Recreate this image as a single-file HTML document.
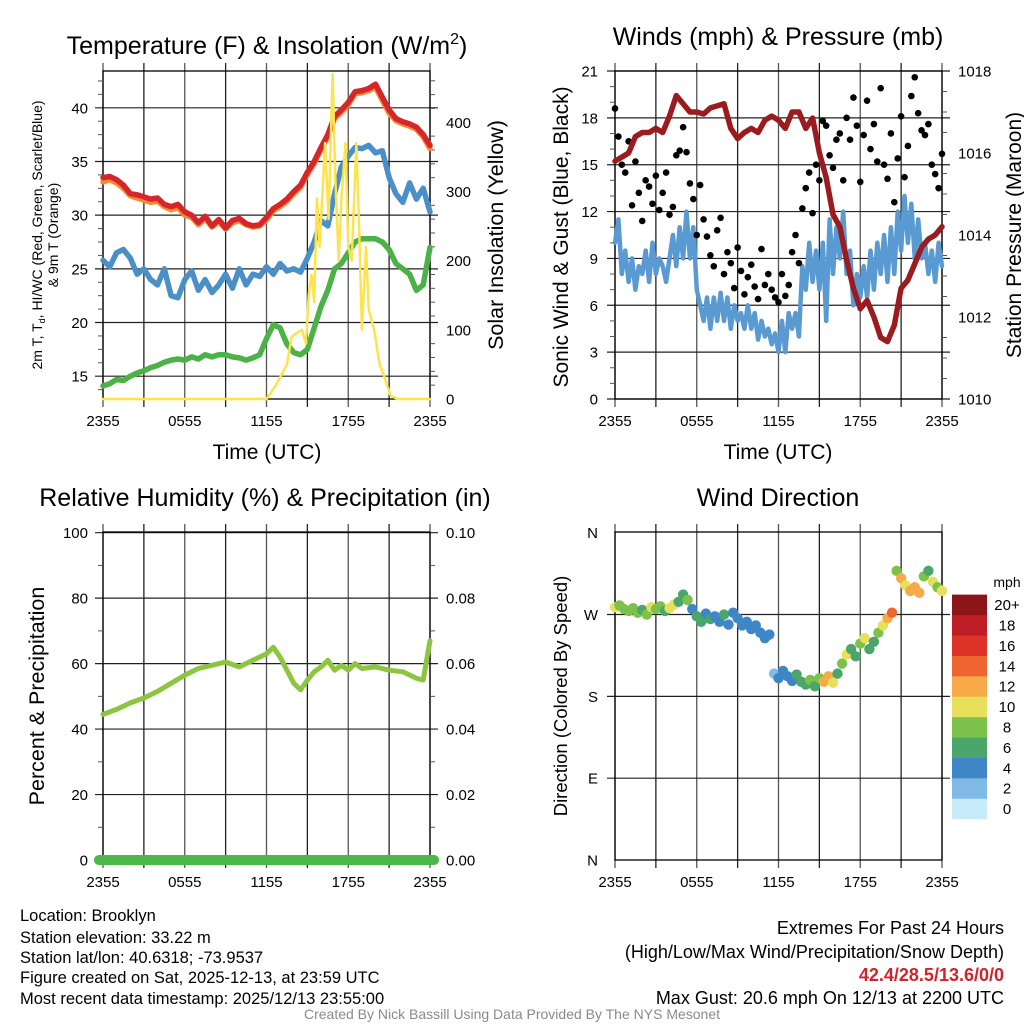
<!DOCTYPE html>
<html><head><meta charset="utf-8">
<style>
html,body{margin:0;padding:0;background:#fff;}
svg{display:block;font-family:"Liberation Sans",sans-serif;}
</style></head>
<body>
<svg id="fig" width="1024" height="1024" viewBox="0 0 1024 1024">
<rect width="1024" height="1024" fill="#fff"/>
<text x="267" y="54" font-size="25" text-anchor="middle">Temperature (F) &amp; Insolation (W/m<tspan font-size="16" dy="-10">2</tspan><tspan dy="10">)</tspan></text>
<text x="778" y="45" font-size="25" text-anchor="middle">Winds (mph) &amp; Pressure (mb)</text>
<text x="265" y="506" font-size="25" text-anchor="middle">Relative Humidity (%) &amp; Precipitation (in)</text>
<text x="778" y="506" font-size="25" text-anchor="middle">Wind Direction</text>

<text transform="translate(42,235) rotate(-90)" font-size="14" text-anchor="middle">2m T, T<tspan font-size="9" dy="3">d</tspan><tspan dy="-3">, HI/WC (Red, Green, Scarlet/Blue)</tspan></text>
<text transform="translate(58,235) rotate(-90)" font-size="14" text-anchor="middle">&amp; 9m T (Orange)</text>
<text transform="translate(503,235) rotate(-90)" font-size="21.5" text-anchor="middle">Solar Insolation (Yellow)</text>
<text transform="translate(568,237) rotate(-90)" font-size="21" text-anchor="middle">Sonic Wind &amp; Gust (Blue, Black)</text>
<text transform="translate(1021,235) rotate(-90)" font-size="21" text-anchor="middle">Station Pressure (Maroon)</text>
<text transform="translate(44,696) rotate(-90)" font-size="21.5" text-anchor="middle">Percent &amp; Precipitation</text>
<text transform="translate(567,696) rotate(-90)" font-size="18.5" text-anchor="middle">Direction (Colored By Speed)</text>
<text x="267" y="459" font-size="21" text-anchor="middle">Time (UTC)</text>
<text x="778" y="459" font-size="21" text-anchor="middle">Time (UTC)</text>

<g font-size="16.5">
<text x="20" y="921">Location: Brooklyn</text>
<text x="20" y="943">Station elevation: 33.22 m</text>
<text x="20" y="963">Station lat/lon: 40.6318; -73.9537</text>
<text x="20" y="983">Figure created on Sat, 2025-12-13, at 23:59 UTC</text>
<text x="20" y="1004">Most recent data timestamp: 2025/12/13 23:55:00</text>
</g>
<g font-size="18" text-anchor="end">
<text x="1004" y="934">Extremes For Past 24 Hours</text>
<text x="1004" y="958">(High/Low/Max Wind/Precipitation/Snow Depth)</text>
<text x="1004" y="981" font-weight="bold" fill="#d0232a">42.4/28.5/13.6/0/0</text>
<text x="1004" y="1004">Max Gust: 20.6 mph On 12/13 at 2200 UTC</text>
</g>
<text x="512" y="1019" font-size="14" fill="#8a8a8a" text-anchor="middle">Created By Nick Bassill Using Data Provided By The NYS Mesonet</text>
<g id="layer"></g>
</svg>
<script>
// ---- data ----
const halfHours = [0,0.5,1,1.5,2,2.5,3,3.5,4,4.5,5,5.5,6,6.5,7,7.5,8,8.5,9,9.5,10,10.5,11,11.5,12,12.5,13,13.5,14,14.5,15,15.5,16,16.5,17,17.5,18,18.5,19,19.5,20,20.5,21,21.5,22,22.5,23,23.5,24];
const tempRed = [33.5,33.6,33.3,32.8,32.0,31.9,31.7,31.5,31.6,31.0,30.8,31.0,30.3,30.0,29.3,29.9,29.0,29.6,28.8,29.5,29.7,29.2,29.0,29.1,29.8,30.6,31.0,31.5,32.2,32.8,34.0,35.0,36.3,37.5,39.2,39.8,40.5,41.5,41.6,41.8,42.2,41.0,39.8,39.0,38.7,38.5,38.2,37.5,36.5];
const tempOrange = [33.1,33.3,33.0,32.5,31.8,31.6,31.4,31.2,31.3,30.8,30.5,30.7,30.0,29.8,29.1,29.7,28.9,29.4,28.7,29.3,29.5,29.1,28.9,29.0,29.6,30.4,30.8,31.3,32.0,32.6,33.8,34.8,36.1,37.3,39.0,39.6,40.3,41.3,41.4,41.6,41.9,40.7,39.5,38.8,38.5,38.3,38.0,37.3,36.2];
const tempBlue = [25.8,25.2,26.5,26.8,26.0,24.5,25.0,24.0,23.5,25.0,22.5,22.3,24.0,24.8,23.0,24.0,22.8,23.5,24.5,23.2,25.0,23.5,24.5,24.3,25.2,24.5,25.5,24.8,25.0,24.7,26.0,27.5,29.5,29.0,32.0,34.5,35.5,36.3,36.2,36.5,35.8,36.0,33.5,32.0,31.2,33.0,31.5,32.5,30.3];
const tempGreen = [14.1,14.3,14.7,14.6,15.0,15.3,15.5,15.8,16.0,16.3,16.5,16.6,16.5,16.8,16.6,17.0,16.8,17.0,17.0,16.8,16.7,16.5,16.7,17.0,18.5,19.8,19.5,18.0,17.2,17.0,17.5,19.5,21.5,23.0,25.0,25.5,26.5,27.5,27.8,27.8,27.8,27.5,26.8,25.5,25.0,24.5,23.0,23.5,27.0];
const solarHours = [0,12.0,12.7,13.5,13.85,14.2,14.6,14.9,15.1,15.3,15.5,15.7,15.9,16.3,16.56,16.85,17.05,17.3,17.5,17.8,18.0,18.25,18.6,18.8,19.0,19.3,19.5,19.9,20.3,20.6,21.1,21.6,24];
const solarValues = [0,0,20,50,90,95,100,80,150,180,140,290,220,370,260,470,320,200,290,370,220,200,370,250,100,220,130,100,50,35,5,0,0];
const windBlue = [10,11.5,8,9.5,7.5,9,7,8.5,8,9.5,7.5,10,8,9,8.5,7.5,9,10.5,8.5,11,9,12,9,11,7,6,5,6.5,4.5,6.5,5,6.8,5,6.5,4.5,6,5,5.5,4.5,6,4.5,5.5,3.8,5,4,4.5,3.5,4.2,3,5,3,5.5,4.5,5.5,4,8.5,7,10,7.5,9.5,7,10,5,11.5,8,11,9,12,8,9.5,6,8,6.5,8.5,6.5,9.5,7,10,8,10.5,7.5,11,8,12,9.5,13,10,12.5,9,11.5,9,10,8,9.5,7.5,10,8.5];
const pressure = [1015.8,1015.9,1016.0,1016.4,1016.5,1016.5,1016.6,1016.5,1016.9,1017.4,1017.2,1017.0,1017.0,1016.95,1017.1,1017.15,1017.2,1016.6,1016.35,1016.5,1016.6,1016.5,1016.8,1016.9,1016.8,1016.6,1017.0,1017.0,1016.6,1016.85,1016.0,1015.4,1014.5,1014.2,1013.4,1012.7,1012.2,1012.4,1012.0,1011.5,1011.4,1011.8,1012.7,1012.9,1013.3,1013.7,1013.9,1014.0,1014.2];
const gustValues = [18.6,16.8,15.0,14.5,16.5,12.4,15.2,13.2,11.4,14.0,13.6,12.5,14.3,12.1,13.2,14.5,11.8,12.3,15.6,15.9,17.4,15.8,13.8,12.8,10.5,13.7,11.5,10.4,9.2,8.5,10.8,11.6,8.0,9.4,8.7,7.1,9.7,8.2,6.7,7.8,8.6,7.2,6.4,9.6,7.3,8.0,7.0,6.5,6.2,8.0,6.6,7.3,9.4,10.5,8.7,12.2,13.5,14.5,11.9,15.0,14.0,17.8,17.5,15.6,14.8,16.6,17.0,14.0,18.0,16.6,19.3,17.5,13.9,16.9,19.1,16.0,17.6,15.2,19.9,15.0,14.1,17.0,12.6,15.4,18.1,14.2,16.2,19.4,20.6,18.3,17.2,16.9,17.6,15.0,14.4,13.5,15.7];
const rhHours = [0,1,2,3,4,5,6,7,8,9,10,11,12,12.5,13,13.5,14,14.5,15,15.5,16,16.5,17,17.5,18,18.5,19,20,21,22,23,23.5,24];
const rhValues = [44.5,46,48,49.5,51.5,54,56.5,58.5,59.5,60.5,59,61,63,65,62,58,54,52,55,57.5,59,61,58,59.5,58,60,58.5,59,58,57.5,55.5,55,67];
const precipValues = [0,0];
const dirHours = [0,0.33,0.67,1,1.33,1.67,2,2.33,2.67,3,3.33,3.67,4,4.33,4.67,5,5.33,5.67,6,6.33,6.67,7,7.33,7.67,8,8.33,8.67,9,9.33,9.67,10,10.33,10.67,11,11.33,11.67,12,12.33,12.67,13,13.33,13.67,14,14.33,14.67,15,15.33,15.67,16,16.33,16.67,17,17.33,17.67,18,18.33,18.67,19,19.33,19.67,20,20.33,20.67,21,21.33,21.67,22,22.33,22.67,23,23.33,23.67,24];
const dirDegrees = [278,280,276,274,277,272,275,270,278,276,279,274,277,281,284,292,286,276,268,262,271,265,268,262,270,259,272,266,258,262,254,258,250,244,248,205,200,208,202,197,204,196,193,198,191,200,196,202,195,205,216,226,232,224,238,244,232,240,250,258,266,272,318,310,302,296,300,294,312,318,306,300,296];
const dirSpeeds = [10,9,8,8,9,8,7,8,10,8,9,7,10,11,7,6,9,5,6,7,4,6,5,4,6,4,4,5,4,5,4,4,5,4,4,3,4,5,4,5,6,7,6,9,6,9,12,13,10,7,9,10,6,7,8,10,7,6,8,10,12,14,9,12,10,13,12,12,8,7,10,8,10];
const speedBins = ["0","2","4","6","8","10","12","14","16","18","20+"];
const speedColors = ["#c8ebfa","#7fbbe6","#3e86c6","#4aa66b","#7cc24a","#e7e05a","#f7aa47","#ef6530","#dd3328","#bf1e26","#8d1519"];

// ---- helpers ----
const NS="http://www.w3.org/2000/svg";
const layer=document.getElementById('layer');
function mk(tag,attrs,parent){const e=document.createElementNS(NS,tag);for(const k in attrs)e.setAttribute(k,attrs[k]);(parent||layer).appendChild(e);return e;}
function xScale(x0){return h=>x0+h/24*327;}
function yLin(v0,v1,yb,yt){return v=>yb-(v-v0)/(v1-v0)*(yb-yt);}
const xTickLabels=["2355","0555","1155","1755","2355"];

function panel(x0,y0,name,hLines){
  const g=mk('g',{});
  
  
  for(let i=0;i<=8;i++){
    const x=x0+i*327/8;
    const l=mk('line',{x1:x,x2:x,y1:y0-8,y2:y0+336,stroke:(i%2?'#222':'#555'),'stroke-width':1.3},g);
    
    
  }
  hLines.forEach(y=>{
    const l=mk('line',{x1:x0-8,x2:x0+335,y1:y,y2:y,stroke:'#222','stroke-width':1.2},g);
    
    
  });
  const r=mk('rect',{x:x0,y:y0,width:327,height:328,fill:'none',stroke:'#000','stroke-width':1.3},g);
  
  
  xTickLabels.forEach((t,i)=>{
    const tx=mk('text',{x:x0+i*327/4,y:y0+355,'font-size':15,'text-anchor':'middle'},g);
    tx.textContent=t;
    
    
  });
  return g;
}
function yLabels(vals,fy,x,anchor,fmt,minor,side){
  vals.forEach(v=>{
    const t=mk('text',{x:x,y:fy(v)+5.5,'font-size':15,'text-anchor':anchor});
    t.textContent=fmt(v);
    
    
  });
  minor.forEach(v=>{
    const y=fy(v);
    const l=mk('line',{x1:side,x2:side+(anchor==='end'?-5:5),y1:y,y2:y,stroke:'#555','stroke-width':1});
    
    
  });
}
function path(xs,ys,fx,fy,color,w,name){
  let d='';xs.forEach((h,i)=>{d+=(i?'L':'M')+fx(h).toFixed(1)+','+fy(ys[i]).toFixed(1);});
  const p=mk('path',{d:d,fill:'none',stroke:color,'stroke-width':w,'stroke-linejoin':'round','stroke-linecap':'round'});
  
  
  return p;
}

// ---- Temperature panel ----
{
const fx=xScale(103), fy=yLin(15,40,376.2,107.8), fs=yLin(0,400,399,122.3);
panel(103,71,'temperature',[15,20,25,30,35,40].map(fy));
yLabels([15,20,25,30,35,40],fy,88,'end',v=>v,[13.75,16.25,17.5,18.75,21.25,22.5,23.75,26.25,27.5,28.75,31.25,32.5,33.75,36.25,37.5,38.75,41.25,42.5],103);
yLabels([0,100,200,300,400],fs,446,'start',v=>v,[20,40,60,80,120,140,160,180,220,240,260,280,320,340,360,380,420,440,460],430);
path(halfHours,tempGreen,fx,fy,'#4bb247',5.5,'dewpoint-line');
path(halfHours,tempBlue,fx,fy,'#4a8fc8',5.5,'wind-chill-line');
path(halfHours,tempOrange,fx,fy,'#f58a32',5.5,'temp-9m-line');
path(halfHours,tempRed,fx,fy,'#d7262b',5.5,'temp-2m-line');
path(solarHours,solarValues,fx,fs,'#fde34d',2.5,'insolation-line');
}
// ---- Wind panel ----
{
const fx=xScale(615), fy=yLin(0,21,399,71), fp=yLin(1010,1018,399,71);
panel(615,71,'wind',[0,3,6,9,12,15,18,21].map(fy));
yLabels([0,3,6,9,12,15,18,21],fy,598,'end',v=>v,[1,2,4,5,7,8,10,11,13,14,16,17,19,20],615);
yLabels([1010,1012,1014,1016,1018],fp,958,'start',v=>v,[1010.5,1011,1011.5,1012.5,1013,1013.5,1014.5,1015,1015.5,1016.5,1017,1017.5],942);
const windHours = windBlue.map((v,i)=>i*0.25);
path(windHours,windBlue,fx,fy,'#5a9ad3',4.5,'wind-speed-line');
gustValues.forEach((v,i)=>{
  const c=mk('circle',{cx:fx(i*0.25),cy:fy(v),r:3.3,fill:'#000'});
  
  
});
path(halfHours,pressure,fx,fp,'#9b1b1e',5.5,'pressure-line');
}
// ---- Humidity panel ----
{
const fx=xScale(103), fy=yLin(0,100,860,532.7), fq=yLin(0,0.1,860,532.7);
panel(103,532,'humidity',[20,40,60,80,100].map(fy));
yLabels([0,20,40,60,80,100],fy,88,'end',v=>v,[10,30,50,70,90],103);
yLabels([0,0.02,0.04,0.06,0.08,0.1],fq,446,'start',v=>v.toFixed(2),[0.01,0.03,0.05,0.07,0.09],430);
path(rhHours,rhValues,fx,fy,'#8cc540',5,'humidity-line');
path([-0.3,24.3],precipValues,fx,fq,'#4cb84a',10,'precipitation-line');
}
// ---- Wind direction panel ----
{
const fx=xScale(615), fy=yLin(0,360,860,532.7);
panel(615,532,'wind-direction',[90,180,270].map(fy));
const names=['N','E','S','W','N'];
yLabels([0,90,180,270,360],fy,598,'end',v=>names[v/90],[],615);
dirHours.forEach((h,i)=>{
  const s=dirSpeeds[i];const bin=Math.min(10,Math.floor(s/2));
  const c=mk('circle',{cx:fx(h),cy:fy(dirDegrees[i]),r:5.2,fill:speedColors[bin]});
  
  
});
speedBins.forEach((b,i)=>{
  const y=798.6-i*20.4;
  const r=mk('rect',{x:952,y:y,width:35,height:20.6,fill:speedColors[i]});
  
  
  const t=mk('text',{x:1007,y:y+15.5,'font-size':15,'text-anchor':'middle'});
  t.textContent=b;
  
  
});
const u=mk('text',{x:1007,y:587,'font-size':14,'text-anchor':'middle'});
u.textContent='mph';


}
</script>
</body></html>
